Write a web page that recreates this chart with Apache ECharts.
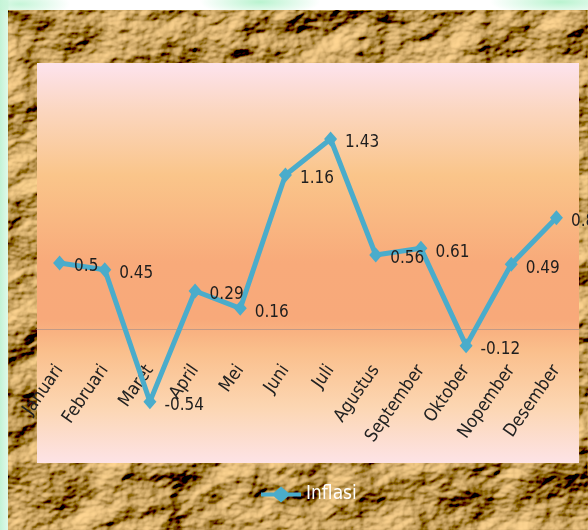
<!DOCTYPE html>
<html>
<head>
<meta charset="utf-8">
<script src="https://cdn.jsdelivr.net/npm/echarts@6/dist/echarts.min.js"></script>
<style>
  html, body { margin: 0; padding: 0; width: 588px; height: 530px; overflow: hidden; background: #ffffff; }
  #edge { position: absolute; left: 0; top: 0; width: 588px; height: 530px;
    background:
      radial-gradient(ellipse 60px 14px at 260px 2px, #b9f3cf 0%, rgba(185,243,207,0) 100%),
      radial-gradient(ellipse 70px 14px at 560px 2px, #b9f3cf 0%, rgba(185,243,207,0) 100%),
      radial-gradient(ellipse 50px 14px at 20px 4px, #c6f5d8 0%, rgba(198,245,216,0) 100%),
      linear-gradient(90deg, #c4f3d6 0px, #dff9e9 8px, #ffffff 9px); }
  #paper { position: absolute; left: 8px; top: 10px; width: 580px; height: 520px; }
  #chart { position: absolute; left: 0; top: 0; width: 588px; height: 530px; }
</style>
</head>
<body>
<div id="edge"></div>
<svg id="paper" xmlns="http://www.w3.org/2000/svg" width="580" height="520">
  <filter id="crumple" x="0" y="0" width="100%" height="100%">
    <feTurbulence type="fractalNoise" baseFrequency="0.012 0.017" numOctaves="5" seed="7" result="noise"/>
    <feDiffuseLighting in="noise" lighting-color="#f4d4a2" surfaceScale="16" result="lit">
      <feDistantLight azimuth="225" elevation="36"/>
    </feDiffuseLighting>
    <feComponentTransfer in="lit" result="tone">
      <feFuncR type="linear" slope="1.22" intercept="-0.10"/>
      <feFuncG type="linear" slope="1.22" intercept="-0.13"/>
      <feFuncB type="linear" slope="1.22" intercept="-0.15"/>
    </feComponentTransfer>
    <feGaussianBlur in="tone" stdDeviation="0.5"/>
  </filter>
  <rect width="580" height="520" fill="#a8845a"/>
  <rect width="580" height="520" filter="url(#crumple)"/>
</svg>
<div id="chart"></div>
<script>
// Monthly inflation, percent
const months = ['Januari', 'Februari', 'Maret', 'April', 'Mei', 'Juni', 'Juli',
                'Agustus', 'September', 'Oktober', 'Nopember', 'Desember'];
const inflasi = [0.5, 0.45, -0.54, 0.29, 0.16, 1.16, 1.43, 0.56, 0.61, -0.12, 0.49, 0.84];
const seriesName = 'Inflasi';
const yMin = -1, yMax = 2;

const font = '"Liberation Sans Narrow", "DejaVu Sans Condensed", "Noto Sans", sans-serif';
const lineBlue = '#4aaccb';

const chart = echarts.init(document.getElementById('chart'), null, { renderer: 'canvas' });
chart.setOption({
  backgroundColor: 'transparent',
  animation: false,
  grid: {
    left: 37, right: 9, top: 63, bottom: 67,
    outerBoundsMode: 'none', containLabel: false,
    show: true, borderWidth: 0,
    backgroundColor: new echarts.graphic.LinearGradient(0, 0, 0, 1, [
      { offset: 0.00, color: '#fde3ee' },
      { offset: 0.12, color: '#fbd6bf' },
      { offset: 0.28, color: '#fac58a' },
      { offset: 0.50, color: '#f8aa7a' },
      { offset: 0.64, color: '#f8a97a' },
      { offset: 0.72, color: '#fabf8c' },
      { offset: 0.86, color: '#fcd6b2' },
      { offset: 1.00, color: '#fde3e6' }
    ])
  },
  legend: {
    bottom: 21, left: 256,
    itemWidth: 40, itemHeight: 16, itemGap: 4,
    icon: 'path://M0,6 L13,6 L20,0 L27,6 L40,6 L40,10 L27,10 L20,16 L13,10 L0,10 Z',
    textStyle: { color: '#ffffff', fontSize: 19, fontFamily: font },
    data: [seriesName]
  },
  xAxis: {
    type: 'category',
    data: months,
    axisLine: { onZero: true, lineStyle: { color: '#c29a86', width: 1.2 } },
    axisTick: { show: false },
    axisLabel: {
      // labels sit just under the zero line, inside the plot
      rotate: 55, margin: -96, interval: 0,
      color: '#222222', fontSize: 18, fontFamily: font
    }
  },
  yAxis: {
    type: 'value', min: yMin, max: yMax,
    show: false, splitLine: { show: false }
  },
  series: [{
    name: seriesName,
    type: 'line',
    data: inflasi,
    symbol: 'diamond',
    symbolSize: [13, 15],
    lineStyle: { color: lineBlue, width: 5 },
    itemStyle: { color: lineBlue },
    label: {
      show: true, position: 'right', distance: 8, offset: [0, 4],
      color: '#1e1e1e', fontSize: 17, fontFamily: font
    }
  }]
});
</script>
</body>
</html>
